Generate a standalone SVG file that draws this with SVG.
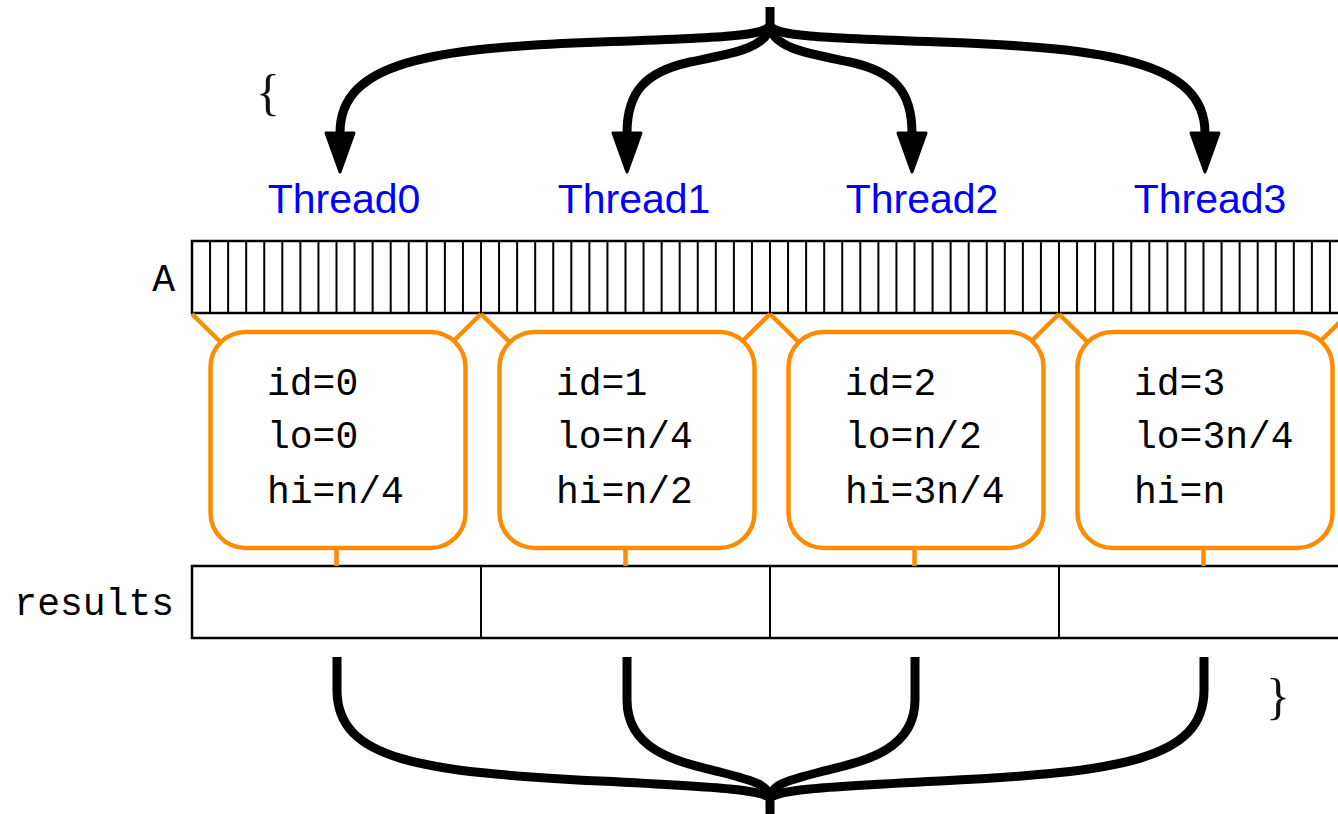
<svg xmlns="http://www.w3.org/2000/svg" width="1338" height="814" viewBox="0 0 1338 814">
  <style>
    .mono { font-family: "Liberation Mono", "DejaVu Sans Mono", monospace; font-size: 38px; fill: #000; }
    .thread { font-family: "Liberation Sans", "DejaVu Sans", sans-serif; font-size: 41px; fill: #0000ff; text-anchor: middle; }
    .brace { font-family: "Liberation Serif", "DejaVu Serif", serif; font-size: 50px; fill: #111; }
    .cellbox { fill: #fff; stroke: #000; stroke-width: 2.5; }
    .cells { fill: none; stroke: #000; stroke-width: 2; }
    .frame { fill: #fff; stroke: #ff8c00; stroke-width: 4.5; }
    .tie { fill: none; stroke: #ff8c00; stroke-width: 4.5; }
    .flow { fill: none; stroke: #000; stroke-width: 9; }
  </style>
  <defs>
    <marker id="head" markerUnits="userSpaceOnUse" markerWidth="46" markerHeight="36" viewBox="-2 -18 46 36" refX="0" refY="0" orient="auto">
      <path d="M0,-14 L39,0 L0,14 Z" fill="#000" stroke="#000" stroke-width="3" stroke-linejoin="round"/>
    </marker>
  </defs>

  <!-- array A -->
  <g id="array-A">
    <text class="mono" x="175" y="291" text-anchor="end">A</text>
    <rect class="cellbox" x="192" y="241" width="1156" height="72"/>
    <path class="cells" d="M210.06,241v72M228.13,241v72M246.19,241v72M264.25,241v72M282.31,241v72M300.38,241v72M318.44,241v72M336.5,241v72M354.56,241v72M372.63,241v72M390.69,241v72M408.75,241v72M426.81,241v72M444.88,241v72M462.94,241v72M481,241v72M499.06,241v72M517.13,241v72M535.19,241v72M553.25,241v72M571.31,241v72M589.38,241v72M607.44,241v72M625.5,241v72M643.56,241v72M661.63,241v72M679.69,241v72M697.75,241v72M715.81,241v72M733.88,241v72M751.94,241v72M770,241v72M788.06,241v72M806.13,241v72M824.19,241v72M842.25,241v72M860.31,241v72M878.38,241v72M896.44,241v72M914.5,241v72M932.56,241v72M950.63,241v72M968.69,241v72M986.75,241v72M1004.81,241v72M1022.88,241v72M1040.94,241v72M1059,241v72M1077.06,241v72M1095.13,241v72M1113.19,241v72M1131.25,241v72M1149.31,241v72M1167.38,241v72M1185.44,241v72M1203.5,241v72M1221.56,241v72M1239.63,241v72M1257.69,241v72M1275.75,241v72M1293.81,241v72M1311.88,241v72M1329.94,241v72"/>
  </g>

  <!-- results array -->
  <g id="results">
    <text class="mono" x="174" y="615" text-anchor="end">results</text>
    <rect class="cellbox" x="192" y="566" width="1156" height="72"/>
    <path class="cells" d="M481,566v72M770,566v72M1059,566v72"/>
  </g>

  <!-- braces -->
  <g id="open-brace"><text class="brace" x="256" y="109">{</text></g>
  <g id="close-brace"><text class="brace" x="1266" y="713">}</text></g>

  <!-- thread labels -->
  <g id="thread0-label"><text class="thread" x="344" y="213">Thread0</text></g>
  <g id="thread1-label"><text class="thread" x="634" y="213">Thread1</text></g>
  <g id="thread2-label"><text class="thread" x="922" y="213">Thread2</text></g>
  <g id="thread3-label"><text class="thread" x="1210" y="213">Thread3</text></g>

  <!-- per-thread ranges -->
  <g id="thread0-range">
    <path class="tie" d="M192,314L220.75,342.25M481,314L452.25,342.25M336.5,548V566"/>
    <rect class="frame" x="210.5" y="332" width="255" height="216" rx="35"/>
    <text class="mono" x="267" y="395">id=0</text>
    <text class="mono" x="267" y="448">lo=0</text>
    <text class="mono" x="267" y="503">hi=n/4</text>
  </g>
  <g id="thread1-range">
    <path class="tie" d="M481,314L509.75,342.25M770,314L741.25,342.25M625.5,548V566"/>
    <rect class="frame" x="499.5" y="332" width="255" height="216" rx="35"/>
    <text class="mono" x="556" y="395">id=1</text>
    <text class="mono" x="556" y="448">lo=n/4</text>
    <text class="mono" x="556" y="503">hi=n/2</text>
  </g>
  <g id="thread2-range">
    <path class="tie" d="M770,314L798.75,342.25M1059,314L1030.25,342.25M914.5,548V566"/>
    <rect class="frame" x="788.5" y="332" width="255" height="216" rx="35"/>
    <text class="mono" x="845" y="395">id=2</text>
    <text class="mono" x="845" y="448">lo=n/2</text>
    <text class="mono" x="845" y="503">hi=3n/4</text>
  </g>
  <g id="thread3-range">
    <path class="tie" d="M1059,314L1087.75,342.25M1348,314L1319.25,342.25M1203.5,548V566"/>
    <rect class="frame" x="1077.5" y="332" width="255" height="216" rx="35"/>
    <text class="mono" x="1134" y="395">id=3</text>
    <text class="mono" x="1134" y="448">lo=3n/4</text>
    <text class="mono" x="1134" y="503">hi=n</text>
  </g>

  <!-- fork and join connectors -->
  <g id="connectors">
    <path class="flow" d="M770,7V28"/>
    <path class="flow" marker-end="url(#head)" d="M770,24C770,36 720,38 600,42C430,48 340,62 340,133"/>
    <path class="flow" marker-end="url(#head)" d="M770,24C770,48 730,54 690,62C645,72 627,92 627,133"/>
    <path class="flow" marker-end="url(#head)" d="M770,24C770,48 810,54 850,62C895,72 912,92 912,133"/>
    <path class="flow" marker-end="url(#head)" d="M770,24C770,36 820,38 940,42C1110,48 1205,62 1205,133"/>

    <path class="flow" d="M337,657V690C337,760 420,772 600,781C720,787 770,790 770,800"/>
    <path class="flow" d="M627,657V700C627,752 680,762 720,772C755,781 770,785 770,800"/>
    <path class="flow" d="M915,657V700C915,752 860,762 820,772C785,781 770,785 770,800"/>
    <path class="flow" d="M1204,657V690C1204,760 1120,772 940,781C820,787 770,790 770,800"/>
    <path class="flow" d="M770,795V814"/>
  </g>
</svg>
